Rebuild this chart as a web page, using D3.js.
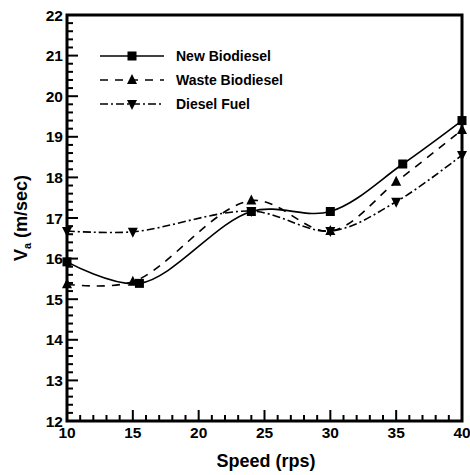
<!DOCTYPE html>
<html><head><meta charset="utf-8">
<script src="https://cdn.jsdelivr.net/npm/d3@7"></script>
<style>body{margin:0;background:#fff}svg{display:block}text{font-family:"Liberation Sans",Arial,sans-serif;font-weight:bold;fill:#000}</style>
</head><body><svg id="c" width="470" height="475"></svg>
<script>
const newX = [10, 15.5, 24, 30, 35.5, 40];
const newY = [15.92, 15.39, 17.16, 17.16, 18.33, 19.40];
const wasteX = [10, 15, 24, 30, 35, 40];
const wasteY = [15.37, 15.43, 17.43, 16.68, 17.89, 19.17];
const dieselX = [10, 15, 24, 30, 35, 40];
const dieselY = [16.68, 16.66, 17.17, 16.68, 17.40, 18.55];
const seriesNames = ["New Biodiesel", "Waste Biodiesel", "Diesel Fuel"];
const xTicks = [10, 15, 20, 25, 30, 35, 40];
const yTicks = [12, 13, 14, 15, 16, 17, 18, 19, 20, 21, 22];

const svg = d3.select("#c");
const L = 67, R = 462, T = 15, B = 421;
const x = d3.scaleLinear().domain([10, 40]).range([L, R]);
const y = d3.scaleLinear().domain([12, 22]).range([B, T]);

const g = svg.append("g");
d3.range(10, 40.001, 1).forEach(v => {
  const major = Math.abs(v % 5) < 1e-6;
  g.append("line").attr("x1", x(v)).attr("x2", x(v)).attr("y1", B).attr("y2", B - (major ? 11 : 6))
   .attr("stroke", "#000").attr("stroke-width", 2);
});
d3.range(12, 22.001, 0.2).forEach(v => {
  const major = Math.abs(v - Math.round(v)) < 1e-6;
  g.append("line").attr("x1", L).attr("x2", L + (major ? 11 : 6)).attr("y1", y(v)).attr("y2", y(v))
   .attr("stroke", "#000").attr("stroke-width", 2);
});

xTicks.forEach(v => {
  g.append("text").attr("x", x(v)).attr("y", 438).attr("text-anchor", "middle").attr("font-size", 15.5).text(v);
});
yTicks.forEach(v => {
  g.append("text").attr("x", 63).attr("y", y(v) + 5.5).attr("text-anchor", "end").attr("font-size", 15.5).text(v);
});

svg.append("rect").attr("x", L).attr("y", T).attr("width", R - L).attr("height", B - T)
  .attr("fill", "none").attr("stroke", "#000").attr("stroke-width", 3);

svg.append("text").attr("x", 266).attr("y", 467).attr("text-anchor", "middle").attr("font-size", 18).text("Speed (rps)");
const yl = svg.append("text").attr("transform", "translate(27,218) rotate(-90)").attr("text-anchor", "middle").attr("font-size", 18);
yl.append("tspan").text("V");
yl.append("tspan").attr("font-size", 11).attr("dy", 4).text("a");
yl.append("tspan").attr("dy", -4).text(" (m/sec)");

const series = [
  {name: seriesNames[0], xs: newX, ys: newY, dash: null, mk: "sq"},
  {name: seriesNames[1], xs: wasteX, ys: wasteY, dash: "8,7", mk: "up"},
  {name: seriesNames[2], xs: dieselX, ys: dieselY, dash: "8,3,2,3", mk: "dn"}
];
const line = d3.line().x(d => x(d[0])).y(d => y(d[1])).curve(d3.curveCatmullRom.alpha(0.5));
function marker(sel, type, cx, cy) {
  if (type === "sq") sel.append("rect").attr("x", cx - 4.5).attr("y", cy - 4.5).attr("width", 9).attr("height", 9).attr("fill", "#000");
  else if (type === "up") sel.append("path").attr("d", `M${cx},${cy-6}L${cx+5},${cy+4}L${cx-5},${cy+4}Z`).attr("fill", "#000");
  else sel.append("path").attr("d", `M${cx},${cy+6}L${cx+5},${cy-4}L${cx-5},${cy-4}Z`).attr("fill", "#000");
}
series.forEach(s => {
  const pts = s.xs.map((v, i) => [v, s.ys[i]]);
  svg.append("path").attr("d", line(pts)).attr("fill", "none").attr("stroke", "#000").attr("stroke-width", 1.6)
    .attr("stroke-dasharray", s.dash);
  const mg = svg.append("g");
  pts.forEach(p => marker(mg, s.mk, x(p[0]), y(p[1])));
});

const ly = [56, 80, 104];
series.forEach((s, i) => {
  svg.append("line").attr("x1", 100).attr("x2", 164).attr("y1", ly[i]).attr("y2", ly[i])
    .attr("stroke", "#000").attr("stroke-width", 1.6).attr("stroke-dasharray", s.dash);
  marker(svg, s.mk, 132, ly[i]);
  svg.append("text").attr("x", 176).attr("y", ly[i] + 5).attr("font-size", 14).text(s.name);
});
</script></body></html>
